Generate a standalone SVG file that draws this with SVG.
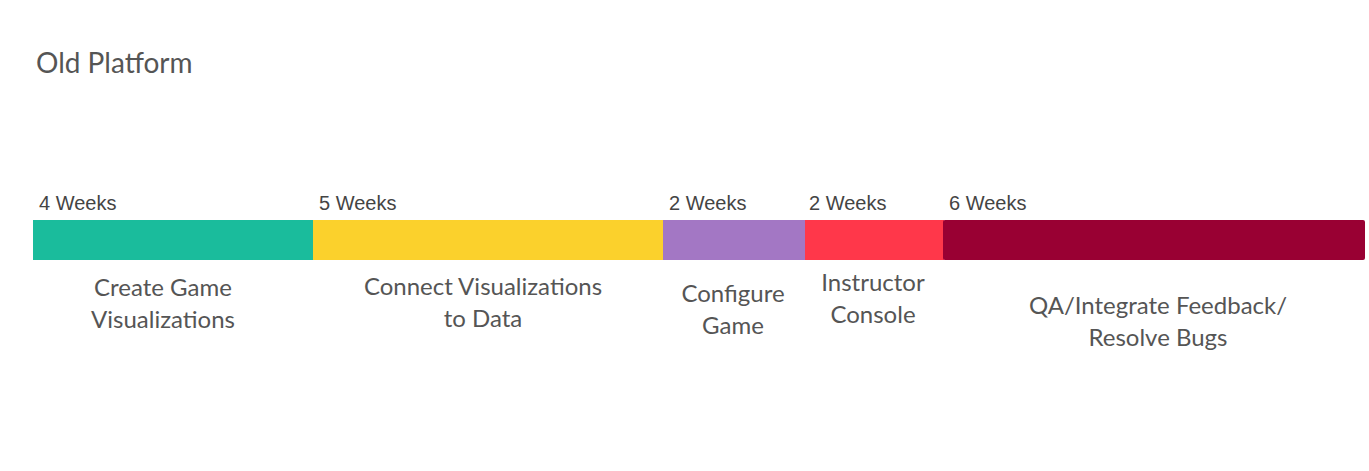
<svg xmlns="http://www.w3.org/2000/svg" width="1369" height="471" viewBox="0 0 1369 471">
  <style>
    .title { font-family: Lato, "Noto Sans", sans-serif; font-size: 28px; fill: #555555; }
    .dur { font-family: "Liberation Sans", Arial, sans-serif; font-size: 20px; fill: #444444; }
    .lbl { font-family: Lato, "Noto Sans", sans-serif; font-size: 24px; fill: #555555; text-anchor: middle; }
  </style>
  <rect width="1369" height="471" fill="#ffffff"/>
  <text class="title" x="36" y="73">Old Platform</text>

  <g id="phase-visualizations">
    <rect x="33" y="220" width="281" height="40" fill="#1ABC9C"/>
    <text class="dur" x="39" y="210">4 Weeks</text>
    <text class="lbl" x="163" y="296">Create Game</text>
    <text class="lbl" x="163" y="328">Visualizations</text>
  </g>

  <g id="phase-data">
    <rect x="313" y="220" width="351" height="40" fill="#FBD12C"/>
    <text class="dur" x="319" y="210">5 Weeks</text>
    <text class="lbl" x="483" y="295">Connect Visualizations</text>
    <text class="lbl" x="483" y="327">to Data</text>
  </g>

  <g id="phase-configure">
    <rect x="663" y="220" width="143" height="40" fill="#A377C4"/>
    <text class="dur" x="669" y="210">2 Weeks</text>
    <text class="lbl" x="733" y="302">Configure</text>
    <text class="lbl" x="733" y="334">Game</text>
  </g>

  <g id="phase-console">
    <rect x="805" y="220" width="139" height="40" fill="#FF374A"/>
    <text class="dur" x="809" y="210">2 Weeks</text>
    <text class="lbl" x="873" y="291">Instructor</text>
    <text class="lbl" x="873" y="323">Console</text>
  </g>

  <g id="phase-qa">
    <rect x="943" y="220" width="422" height="40" rx="2" fill="#990033"/>
    <text class="dur" x="949" y="210">6 Weeks</text>
    <text class="lbl" x="1158" y="314">QA/Integrate Feedback/</text>
    <text class="lbl" x="1158" y="346">Resolve Bugs</text>
  </g>

  <g id="connectors"/>
</svg>
